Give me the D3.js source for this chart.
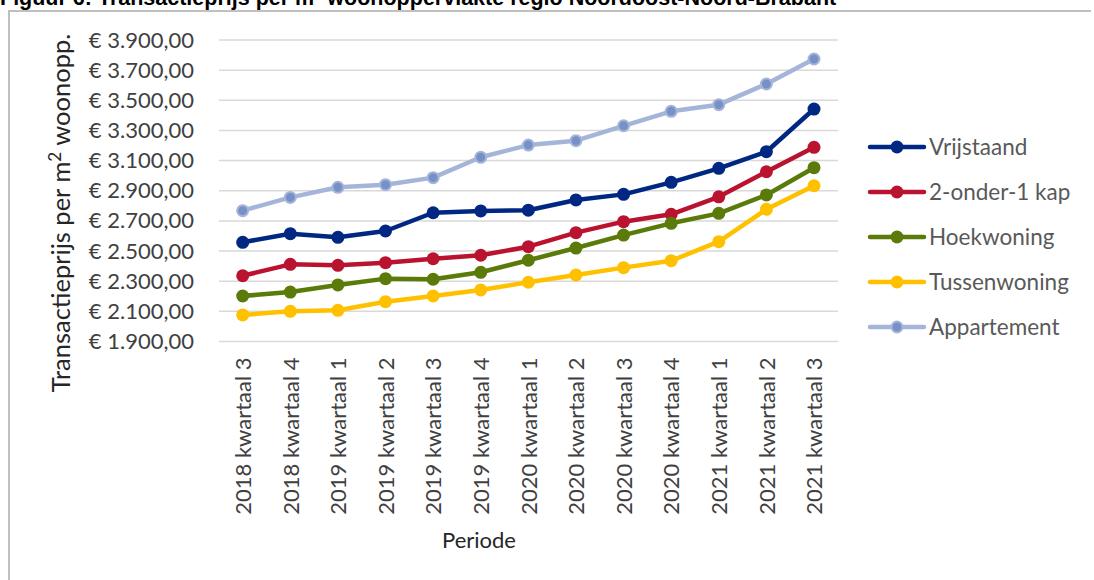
<!DOCTYPE html>
<html>
<head>
<meta charset="utf-8">
<script src="https://cdn.jsdelivr.net/npm/d3@7"></script>
<style>
  body { margin: 0; background: #fff; }
  svg { display: block; }
</style>
</head>
<body>
<svg id="chart"></svg>
<script>
const periods = ["2018 kwartaal 3", "2018 kwartaal 4", "2019 kwartaal 1", "2019 kwartaal 2",
  "2019 kwartaal 3", "2019 kwartaal 4", "2020 kwartaal 1", "2020 kwartaal 2", "2020 kwartaal 3",
  "2020 kwartaal 4", "2021 kwartaal 1", "2021 kwartaal 2", "2021 kwartaal 3"]

const vrijstaand   = [2558, 2615, 2591, 2633, 2754, 2766, 2771, 2839, 2876, 2956, 3049, 3159, 3442]
const onderEenKap  = [2336, 2412, 2405, 2423, 2449, 2472, 2529, 2622, 2695, 2744, 2860, 3026, 3188]
const hoekwoning   = [2202, 2228, 2275, 2317, 2313, 2359, 2439, 2520, 2606, 2684, 2750, 2872, 3053]
const tussenwoning = [2076, 2100, 2107, 2164, 2202, 2242, 2293, 2341, 2390, 2436, 2562, 2777, 2933]
const appartement  = [2768, 2856, 2923, 2940, 2987, 3122, 3203, 3232, 3331, 3427, 3471, 3608, 3774]

const yTicks = [1900, 2100, 2300, 2500, 2700, 2900, 3100, 3300, 3500, 3700, 3900]

const series = [
  {name: "Vrijstaand", values: vrijstaand, line: "#002882", dot: "#002882", ring: "#002882"},
  {name: "2-onder-1 kap", values: onderEenKap, line: "#ba1330", dot: "#ba1330", ring: "#ba1330"},
  {name: "Hoekwoning", values: hoekwoning, line: "#5a7a0a", dot: "#5a7a0a", ring: "#5a7a0a"},
  {name: "Tussenwoning", values: tussenwoning, line: "#ffc000", dot: "#ffc000", ring: "#ffc000"},
  {name: "Appartement", values: appartement, line: "#a5b5da", dot: "#7790c6", ring: "#a5b5da"}
]

const W = 1094, H = 580
const svg = d3.select("#chart").attr("width", W).attr("height", H)
const font = "Lato, 'Open Sans', sans-serif"

// title, cut off at the top like in the source
svg.append("text")
  .attr("x", 0).attr("y", 5)
  .attr("font-family", "'Liberation Sans', Arial, sans-serif")
  .attr("font-weight", "bold")
  .attr("font-size", 21.5)
  .attr("fill", "#000")
  .text("Figuur 6: Transactieprijs per m² woonoppervlakte regio Noordoost-Noord-Brabant")

// frame
svg.append("path")
  .attr("d", "M9,580 L9,11 L1091,11")
  .attr("fill", "none")
  .attr("stroke", "#c0c0c0")
  .attr("stroke-width", 2)

const x = d3.scalePoint().domain(periods).range([242.7, 814])
const y = d3.scaleLinear().domain([1900, 3900]).range([341.5, 40])
const left = 219, right = 838

const grid = svg.append("g")
grid.selectAll("line").data(yTicks).join("line")
  .attr("x1", left).attr("x2", right)
  .attr("y1", d => y(d)).attr("y2", d => y(d))
  .attr("stroke", "#d9d9d9").attr("stroke-width", 1.5)

const fmt = d => "€ " + d3.format(",.2f")(d).replace(/,/g, "#").replace(".", ",").replace(/#/g, ".")

const yAxis = svg.append("g")
  .attr("transform", `translate(${left},0)`)
  .call(d3.axisLeft(y).tickValues(yTicks).tickSize(0).tickPadding(25).tickFormat(fmt))
yAxis.select(".domain").remove()
yAxis.selectAll("text")
  .attr("font-family", font).attr("font-size", 22).attr("fill", "#404040")

const xAxis = svg.append("g")
  .attr("transform", `translate(0,${y(1900)})`)
  .call(d3.axisBottom(x).tickSize(0))
xAxis.select(".domain").remove()
xAxis.selectAll("text")
  .attr("font-family", font).attr("font-size", 22).attr("fill", "#404040")
  .attr("text-anchor", "end")
  .attr("transform", "rotate(-90)")
  .attr("x", -16).attr("y", 0).attr("dy", "0.35em")

svg.append("text")
  .attr("transform", "translate(70,213) rotate(-90)")
  .attr("text-anchor", "middle")
  .attr("font-family", font).attr("font-size", 25.5).attr("fill", "#262626")
  .text("Transactieprijs per m")
  .append("tspan").attr("dy", -9).attr("font-size", 17).text("2")
  .select(function() { return this.parentNode })
  .append("tspan").attr("dy", 9).text(" woonopp.")

svg.append("text")
  .attr("x", 479).attr("y", 548)
  .attr("text-anchor", "middle")
  .attr("font-family", font).attr("font-size", 22).attr("fill", "#262626")
  .text("Periode")

const line = d3.line()
  .x((d, i) => x(periods[i]))
  .y(d => y(d))

// appartement first so it stays behind
const order = [4, 0, 1, 2, 3]
order.forEach(k => {
  const s = series[k]
  svg.append("path")
    .datum(s.values)
    .attr("d", line)
    .attr("fill", "none")
    .attr("stroke", s.line)
    .attr("stroke-width", 4.5)
    .attr("stroke-linejoin", "round")
  svg.append("g").selectAll("circle").data(s.values).join("circle")
    .attr("cx", (d, i) => x(periods[i]))
    .attr("cy", d => y(d))
    .attr("r", k == 4 ? 5.5 : 6.5)
    .attr("fill", s.dot)
    .attr("stroke", s.ring)
    .attr("stroke-width", k == 4 ? 2 : 0)
})

// legend
const legend = svg.append("g")
series.forEach((s, i) => {
  const ly = 147 + i * 45
  legend.append("line")
    .attr("x1", 870).attr("x2", 924).attr("y1", ly).attr("y2", ly)
    .attr("stroke", s.line).attr("stroke-width", 4.5).attr("stroke-linecap", "round")
  legend.append("circle")
    .attr("cx", 897).attr("cy", ly).attr("r", i == 4 ? 5.5 : 6.5)
    .attr("fill", s.dot).attr("stroke", s.ring).attr("stroke-width", i == 4 ? 2 : 0)
  legend.append("text")
    .attr("x", 929).attr("y", ly).attr("dy", "0.35em")
    .attr("font-family", font).attr("font-size", 22.5).attr("fill", "#595959")
    .text(s.name)
})
</script>
</body>
</html>
